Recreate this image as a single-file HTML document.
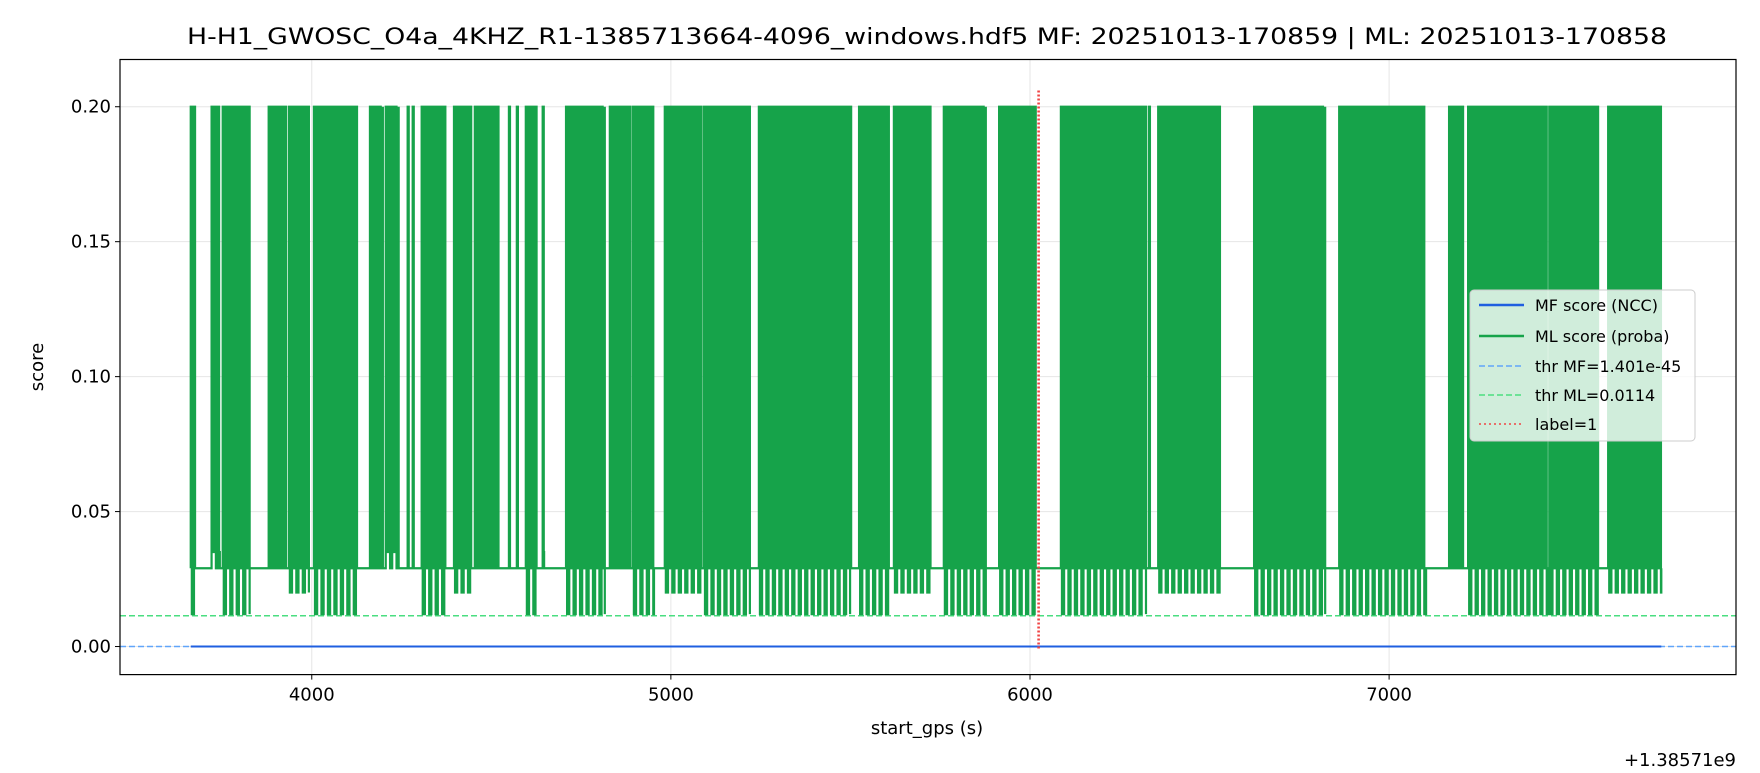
<!DOCTYPE html>
<html><head><meta charset="utf-8"><style>
html,body{margin:0;padding:0;background:#fff}
svg text{font-family:"DejaVu Sans","Liberation Sans",sans-serif;fill:#000}
</style></head><body>
<svg id="chart" width="1760" height="768" xmlns="http://www.w3.org/2000/svg">
<text x="927" y="44" font-size="22" text-anchor="middle" textLength="1480" lengthAdjust="spacingAndGlyphs">H-H1_GWOSC_O4a_4KHZ_R1-1385713664-4096_windows.hdf5  MF: 20251013-170859 | ML: 20251013-170858</text>
<g id="grid"></g>
<g id="plot"></g>
<g id="axes"></g>
<text x="927" y="734" font-size="18" text-anchor="middle">start_gps (s)</text>
<text x="1736" y="766" font-size="18" text-anchor="end">+1.38571e9</text>
<text x="0" y="0" font-size="18" text-anchor="middle" transform="translate(43,367) rotate(-90)">score</text>
<g>
<rect x="1470" y="290" width="225" height="151" rx="4" fill="#fff" fill-opacity="0.8" stroke="#ccc"/>
<g><line x1="1479" y1="305" x2="1524" y2="305" stroke="#1f5fe0" stroke-width="2.5"/><text x="1535" y="311" font-size="16">MF score (NCC)</text></g>
<g><line x1="1479" y1="336" x2="1524" y2="336" stroke="#16a34a" stroke-width="2.5"/><text x="1535" y="342" font-size="16">ML score (proba)</text></g>
<g><line x1="1479" y1="366" x2="1524" y2="366" stroke="#60a5fa" stroke-width="1.5" stroke-dasharray="6,3"/><text x="1535" y="372" font-size="16">thr MF=1.401e-45</text></g>
<g><line x1="1479" y1="395" x2="1524" y2="395" stroke="#4ade80" stroke-width="1.5" stroke-dasharray="6,3"/><text x="1535" y="401" font-size="16">thr ML=0.0114</text></g>
<g><line x1="1479" y1="424" x2="1524" y2="424" stroke="#ef4444" stroke-width="1.5" stroke-dasharray="2,3"/><text x="1535" y="430" font-size="16">label=1</text></g>
</g>
</svg>
<script>
const xTicks=[4000,5000,6000,7000];
const yTicks=[0,0.05,0.10,0.15,0.20];
const yTickLabels=["0.00","0.05","0.10","0.15","0.20"];
const burstStart=[3663,3721,3752,3880,3936,4006,4162,4206,4267,4281,4306,4396,4454,4549,4571,4596,4643,4708,4830,4894,4983,5092,5245,5499,5524,5621,5760,5914,6086,6331,6357,6624,6861,7167,7220,7446,7610];
const burstEnd=[3680,3744,3827,3928,3992,4128,4198,4242,4271,4285,4376,4446,4524,4553,4575,4627,4647,4816,4889,4953,5086,5220,5499,5503,5607,5724,5877,6017,6323,6335,6529,6822,7103,7206,7443,7582,7758];
const burstLow=[0.012,0.035,0.012,0.029,0.02,0.012,0.029,0.035,0.029,0.029,0.012,0.02,0.029,0.029,0.029,0.012,0.035,0.012,0.029,0.012,0.02,0.012,0.012,0.029,0.012,0.02,0.012,0.012,0.012,0.029,0.02,0.012,0.012,0.029,0.012,0.012,0.02];
const peak=0.2, gapLevel=0.029;
const mfStart=3663, mfEnd=7758, mfValue=0.0;
const thrMF=1.401e-45, thrML=0.0114, labelX=6024;
const X0=120,X1=1736,Y0=59.5,Y1=674.6;
const xmin=3466, xmax=7966, ymin=-0.0104, ymax=0.2175;
const sx=v=>X0+(v-xmin)/(xmax-xmin)*(X1-X0);
const sy=v=>Y1-(v-ymin)/(ymax-ymin)*(Y1-Y0);
const NS="http://www.w3.org/2000/svg";
function mk(tag,attrs,parent){const e=document.createElementNS(NS,tag);for(const k in attrs)e.setAttribute(k,attrs[k]);parent.appendChild(e);return e;}
const grid=document.getElementById('grid'),plot=document.getElementById('plot'),axes=document.getElementById('axes');
xTicks.forEach(t=>{const l=mk('line',{x1:sx(t),x2:sx(t),y1:Y0,y2:Y1,stroke:'#e6e6e6','stroke-width':1},grid);

});
yTicks.forEach(t=>{const l=mk('line',{x1:X0,x2:X1,y1:sy(t),y2:sy(t),stroke:'#e6e6e6','stroke-width':1},grid);

});
let e=mk('line',{x1:X0,x2:X1,y1:sy(thrMF),y2:sy(thrMF),stroke:'#60a5fa','stroke-width':1.5,'stroke-dasharray':'6,3'},plot);


e=mk('line',{x1:X0,x2:X1,y1:sy(thrML),y2:sy(thrML),stroke:'#4ade80','stroke-width':1.5,'stroke-dasharray':'6,3'},plot);


let d='M'+sx(burstStart[0])+','+sy(gapLevel);
for(let i=0;i<burstStart.length;i++){
  let t=burstStart[i];
  d+=' L'+sx(t)+','+sy(gapLevel);
  let k=0, lo=gapLevel;
  while(t<=burstEnd[i]){
    d+=' L'+sx(t)+','+sy(lo)+' L'+sx(t)+','+sy(peak);
    const t2=Math.min(t+3,burstEnd[i]);
    lo=(k%2===0)?burstLow[i]:gapLevel;
    d+=' L'+sx(t2)+','+sy(peak)+' L'+sx(t2)+','+sy(lo);
    t+=9;k++;
  }
  d+=' L'+sx(burstEnd[i])+','+sy(lo)+' L'+sx(burstEnd[i])+','+sy(gapLevel);
}
e=mk('path',{d:d,fill:'none',stroke:'#16a34a','stroke-width':2.2,'stroke-linejoin':'miter'},plot);


e=mk('line',{x1:sx(mfStart),x2:sx(mfEnd),y1:sy(mfValue),y2:sy(mfValue),stroke:'#1f5fe0','stroke-width':2},plot);


e=mk('line',{x1:sx(labelX),x2:sx(labelX),y1:sy(0.206),y2:sy(-0.001),stroke:'#ef4444','stroke-width':2.6,'stroke-dasharray':'2,2'},plot);


e=mk('rect',{x:X0,y:Y0,width:X1-X0,height:Y1-Y0,fill:'none',stroke:'#000','stroke-width':1.2},axes);


xTicks.forEach(t=>{mk('line',{x1:sx(t),x2:sx(t),y1:Y1,y2:Y1+5,stroke:'#000'},axes);
const tx=mk('text',{x:sx(t),y:Y1+26,'font-size':18,'text-anchor':'middle'},axes);tx.textContent=String(t);

});
yTicks.forEach((t,i)=>{mk('line',{x1:X0-5,x2:X0,y1:sy(t),y2:sy(t),stroke:'#000'},axes);
const tx=mk('text',{x:X0-9,y:sy(t)+6,'font-size':18,'text-anchor':'end'},axes);tx.textContent=yTickLabels[i];

});
</script>
</body></html>
